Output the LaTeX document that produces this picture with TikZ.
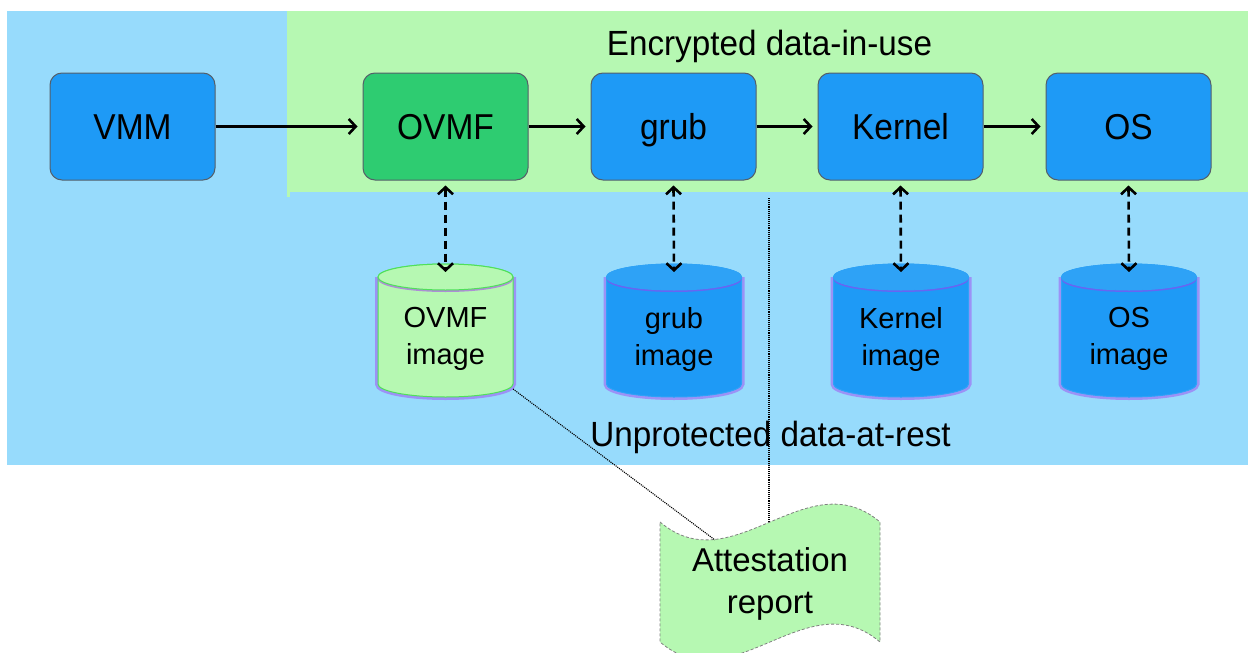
\documentclass[tikz,border=0pt]{standalone}
\usepackage{fontspec}
\setmainfont{Liberation Sans}
\newfontfamily\stagefont[FakeStretch=0.93]{Liberation Sans}
\newfontfamily\zonefont[FakeStretch=0.95]{Liberation Sans}
\usetikzlibrary{arrows.meta}

\definecolor{restbg}{HTML}{97DBFC}
\definecolor{usebg}{HTML}{B6F8B2}
\definecolor{boxblue}{HTML}{1E9AF6}
\definecolor{boxgreen}{HTML}{2ECC71}
\definecolor{topblue}{HTML}{2EA2F6}
\definecolor{glow}{HTML}{A43AF0}
\definecolor{ovmfrim}{HTML}{4FE05A}
\definecolor{docfill}{HTML}{B6F8B2}

\tikzset{
  stage/.style={draw={rgb,255:red,85;green,95;blue,105}, line width=1pt,
    rounded corners=12pt, minimum width=165pt, minimum height=107pt,
    inner sep=0pt, text height=26pt, text depth=0pt,
    font=\stagefont\fontsize{36}{40}\selectfont},
  flow/.style={line width=2.6pt, -{Straight Barb[length=7pt,width=15pt,line width=2.6pt]},
    shorten >=5pt},
  access/.style={line width=2.6pt, dash pattern=on 8pt off 5pt,
    {Straight Barb[length=7pt,width=15pt,line width=2.6pt]}-{Straight Barb[length=7pt,width=15pt,line width=2.6pt]}},
  trace/.style={densely dotted, line width=1.1pt},
  label/.style={font=\zonefont\fontsize{35}{40}\selectfont, inner sep=0pt, anchor=base},
  cyltext/.style={align=center, font=\fontsize{29}{37}\selectfont, inner sep=0pt},
}

% cylinder body: #1 centre x, #2 fill, #3 rim colour, #4 top fill
\newcommand{\drum}[4]{%
  \path[draw=glow, draw opacity=0.45, line width=6pt]
    (#1-67.5,277) -- (#1-67.5,384) arc[start angle=180, end angle=360, x radius=67.5pt, y radius=13pt]
    -- (#1+67.5,277);
  \path[fill=#2, draw=#3, line width=1pt]
    (#1-67.5,277) -- (#1-67.5,384) arc[start angle=180, end angle=360, x radius=67.5pt, y radius=13pt]
    -- (#1+67.5,277) arc[start angle=0, end angle=180, x radius=67.5pt, y radius=13pt] -- cycle;
  \path[draw=glow, draw opacity=0.55, line width=4pt]
    (#1-66,278) arc[start angle=180, end angle=360, x radius=66pt, y radius=12pt];
  \path[fill=#4, draw=#3, line width=1pt]
    (#1,277) ellipse[x radius=67.5pt, y radius=13pt];
}

\begin{document}
\begin{tikzpicture}[x=1pt, y=-1pt]
  \useasboundingbox (0,0) rectangle (1248,653);
  \clip (0,0) rectangle (1248,653);

  % zones
  \fill[restbg] (7,11) rectangle (1248,465);
  \fill[usebg] (287,11) rectangle (1248,192);
  \fill[usebg] (287,192) rectangle (290,197);

  \node[label] (inuse) at (769.5,55) {Encrypted data-in-use};
  \node[label] (atrest) at (770.5,446) {Unprotected data-at-rest};

  % boot chain
  \node[stage, fill=boxblue]  (vmm)    at (132.5,126.5) {VMM};
  \node[stage, fill=boxgreen] (ovmf)   at (445.5,126.5) {OVMF};
  \node[stage, fill=boxblue]  (grub)   at (673.5,126.5) {grub};
  \node[stage, fill=boxblue]  (kernel) at (900.5,126.5) {Kernel};
  \node[stage, fill=boxblue]  (os)     at (1128.5,126.5) {OS};

  \draw[flow] (vmm) -- (ovmf);
  \draw[flow] (ovmf) -- (grub);
  \draw[flow] (grub) -- (kernel);
  \draw[flow] (kernel) -- (os);

  % stored images
  \drum{445.5}{docfill}{ovmfrim}{docfill}
  \drum{674}{boxblue}{topblue}{topblue}
  \drum{901}{boxblue}{topblue}{topblue}
  \drum{1129}{boxblue}{topblue}{topblue}

  \node[cyltext] (ovmfimg)   at (445.5,339) {OVMF\\image};
  \node[cyltext] (grubimg)   at (674,339) {grub\\image};
  \node[cyltext] (kernelimg) at (901,339) {Kernel\\image};
  \node[cyltext] (osimg)     at (1129,339) {OS\\image};

  \coordinate (ovmftop)   at (445.5,272);
  \coordinate (grubtop)   at (674,272);
  \coordinate (kerneltop) at (901,272);
  \coordinate (ostop)     at (1129,272);
  \coordinate (ovmfedge)  at (513,389);

  \draw[access] ([yshift=-5pt]ovmf.south) -- (ovmftop);
  \draw[access] ([yshift=-5pt]grub.south) -- (grubtop);
  \draw[access] ([yshift=-5pt]kernel.south) -- (kerneltop);
  \draw[access] ([yshift=-5pt]os.south) -- (ostop);

  % attestation report
  \path[fill=docfill, draw=gray, densely dashed, line width=0.8pt]
    (660,522) .. controls (733,584) and (807,460) .. (880,522)
    -- (880,642) .. controls (807,580) and (733,704) .. (660,642) -- cycle;
  \node[cyltext, font=\fontsize{33}{42}\selectfont] (report) at (770,584) {Attestation\\report};
  \coordinate (reportdip) at (715,540);
  \coordinate (reporttop) at (769,522);
  \coordinate (measure)   at (769,198);

  \draw[trace] (ovmfedge) -- (reportdip);
  \draw[trace] (measure) -- (reporttop);
\end{tikzpicture}
\end{document}
